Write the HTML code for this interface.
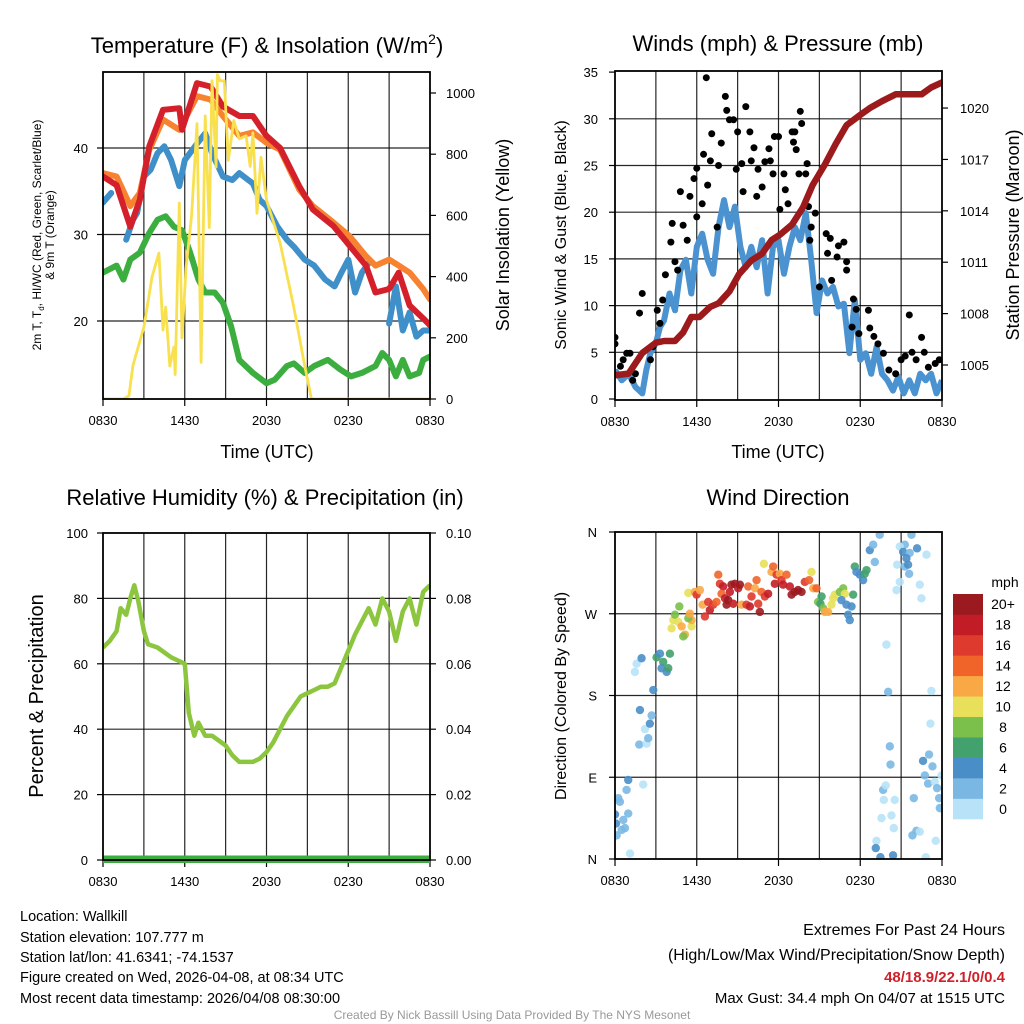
<!DOCTYPE html>
<html><head><meta charset="utf-8"><title>Mesonet Meteogram - Wallkill</title>
<style>
html,body{margin:0;padding:0;background:#fff;}
svg{display:block;font-family:"Liberation Sans",Arial,sans-serif;}
</style></head>
<body>
<svg id="chart" width="1024" height="1024" viewBox="0 0 1024 1024" xmlns="http://www.w3.org/2000/svg">
<defs>
<clipPath id="c1"><rect x="103" y="72" width="327" height="327"/></clipPath>
<clipPath id="c2"><rect x="615" y="71" width="327" height="329"/></clipPath>
<clipPath id="c3"><rect x="103" y="533" width="327" height="330"/></clipPath>
<clipPath id="c4"><rect x="615" y="532" width="327" height="327"/></clipPath>
</defs>
<rect width="1024" height="1024" fill="#fff"/>
<g id="p1"></g>
<g id="p2"></g>
<g id="p3"></g>
<g id="p4"></g>

<text x="267" y="53" font-size="22" text-anchor="middle">Temperature (F) &amp; Insolation (W/m<tspan dy="-9" font-size="14">2</tspan><tspan dy="9">)</tspan></text>
<text x="778" y="51" font-size="22" text-anchor="middle">Winds (mph) &amp; Pressure (mb)</text>
<text x="265" y="505" font-size="22" text-anchor="middle">Relative Humidity (%) &amp; Precipitation (in)</text>
<text x="778" y="505" font-size="22" text-anchor="middle">Wind Direction</text>

<text x="267" y="458" font-size="18" text-anchor="middle">Time (UTC)</text>
<text x="778" y="458" font-size="18" text-anchor="middle">Time (UTC)</text>

<text transform="translate(41,235) rotate(-90)" font-size="12" text-anchor="middle">2m T, T<tspan font-size="8" dy="3">d</tspan><tspan dy="-3">, HI/WC (Red, Green, Scarlet/Blue)</tspan></text>
<text transform="translate(54,235) rotate(-90)" font-size="12" text-anchor="middle">&amp; 9m T (Orange)</text>
<text transform="translate(509,235) rotate(-90)" font-size="18" text-anchor="middle">Solar Insolation (Yellow)</text>
<text transform="translate(566,235) rotate(-90)" font-size="16" text-anchor="middle">Sonic Wind &amp; Gust (Blue, Black)</text>
<text transform="translate(1019,235) rotate(-90)" font-size="18" text-anchor="middle">Station Pressure (Maroon)</text>
<text transform="translate(43,696) rotate(-90)" font-size="20" text-anchor="middle">Percent &amp; Precipitation</text>
<text transform="translate(566,696) rotate(-90)" font-size="16" text-anchor="middle">Direction (Colored By Speed)</text>

<g font-size="14.5">
<text x="20" y="921">Location: Wallkill</text>
<text x="20" y="942">Station elevation: 107.777 m</text>
<text x="20" y="962">Station lat/lon: 41.6341; -74.1537</text>
<text x="20" y="982">Figure created on Wed, 2026-04-08, at 08:34 UTC</text>
<text x="20" y="1003">Most recent data timestamp: 2026/04/08 08:30:00</text>
</g>
<g text-anchor="end">
<text x="1005" y="935" font-size="16">Extremes For Past 24 Hours</text>
<text x="1005" y="960" font-size="16">(High/Low/Max Wind/Precipitation/Snow Depth)</text>
<text x="1005" y="982" font-size="15" font-weight="bold" fill="#d0202a">48/18.9/22.1/0/0.4</text>
<text x="1005" y="1003" font-size="15">Max Gust: 34.4 mph On 04/07 at 1515 UTC</text>
</g>
<text x="512" y="1019" font-size="12" fill="#999" text-anchor="middle">Created By Nick Bassill Using Data Provided By The NYS Mesonet</text>
</svg>
<script>
// ---------- DATA ----------
const xTickLabels = ["0830","1430","2030","0230","0830"];
const tempTicks = [20,30,40];
const solarTicks = [0,200,400,600,800,1000];
const windTicks = [0,5,10,15,20,25,30,35];
const pressTicks = [1005,1008,1011,1014,1017,1020];
const rhTicks = [0,20,40,60,80,100];
const precipTicks = ["0.00","0.02","0.04","0.06","0.08","0.10"];
const dirTicks = ["N","E","S","W","N"];
const speedLabels = ["0","2","4","6","8","10","12","14","16","18","20+"];
const speedColors = ["#b7e2f7","#7ab8e3","#4a8ec8","#42a16c","#7ac04a","#e8e05a","#f9a846","#f0642a","#df3a2e","#c21d27","#9b1a1f"];

const redHours = [0,1,2,2.7,3.4,4.4,5.6,5.8,6.9,7.9,8.8,10,11,12,13,14.4,15.4,16.9,18.1,19.3,20,21,21.7,22.5,23.5,24];
const redTemp  = [36.7,35.7,30.9,34,40.2,44.4,44.6,42.1,47.5,47.1,44.8,43.7,43.7,41.4,40,35.6,32.9,31,28.7,26.4,23.3,23.7,25.6,21.8,20.3,19.5];
const orangeHours = [0,1,2,2.7,3.4,4.4,5.6,6.9,7.9,8.8,10,11,12,13,14.4,15.4,16.9,18.1,19.3,20,21,21.7,22.5,23.5,24];
const orangeTemp  = [37.1,36.7,33.3,34.8,39.8,43.3,42.1,46,45.6,43.7,41.4,41.8,40.6,39.8,35.2,33.3,31.4,29.8,27.5,26.4,27.1,26.4,25.6,23.7,22.5];
const blueHours = [0,0.6,null,1.7,2.2,2.5,3,3.5,4,4.5,5,5.6,6,6.9,7.5,8,8.8,9.5,10,11,11.5,12,12.8,13.5,14,14.8,15.5,16.3,17,17.5,18,18.5,19,19.5,null,21,21.5,22,22.5,23,23.5,24];
const blueTemp  = [33.7,34.8,null,29.4,31.7,32.5,36.7,37.5,39.4,40.2,38.6,35.6,38.6,40.5,41.7,39.4,36.7,36.3,37.1,35.9,34,33.3,30.9,29.4,28.6,27.1,26.4,24.8,24,25.6,27.1,23.3,25.6,26.7,null,19.7,24,18.9,21,18.2,18.9,18.9];
const greenHours = [0,1,1.5,2,2.7,3.4,4,4.6,5.2,5.8,6.4,7,7.5,8.2,8.8,9.4,10,11,12,12.6,13.5,14,14.8,15.5,16.5,17.4,18.2,19,20,20.5,21,21.5,22,22.5,23.2,23.5,24];
const greenTemp  = [25.6,26.4,24.8,27.1,27.9,30.2,31.7,32.1,30.9,30.5,27.9,24.8,23.3,23.3,22.1,19.4,15.5,14,12.8,13.2,14.8,15.1,14,14.8,15.5,14.4,13.6,14,14.8,16.3,15.5,13.6,15.5,13.6,14,15.5,15.9];
const solarHours = [0,1.5,1.9,2.2,3,3.6,4.1,4.4,4.6,4.9,5.2,5.3,5.6,5.8,6.1,6.5,6.9,7.2,7.5,7.8,8,8.3,8.4,8.6,8.9,9.2,9.6,10,10.5,10.8,11,11.3,11.6,12,13,14,14.8,15.3,24];
const solarVals  = [0,0,10,110,235,400,477,225,300,108,170,80,640,200,430,600,900,120,925,560,1040,758,1060,1040,1040,780,910,850,860,760,870,607,790,650,510,300,110,0,0];

const windHours = [0,0.5,1,1.5,2,2.3,2.6,3,3.3,3.6,4,4.4,4.8,5.2,5.6,6,6.4,6.8,7.2,7.6,8,8.4,8.8,9.2,9.6,10,10.4,10.8,11.2,11.6,12,12.4,12.8,13.2,13.6,14,14.4,14.8,15.2,15.6,16,16.4,16.8,17.2,17.6,18,18.4,18.8,19.2,19.6,20,20.4,20.8,21.2,21.6,22,22.4,22.8,23.2,23.6,24];
const windSpeed = [3.1,2.0,2.7,1.3,0.6,3.1,4.9,6,7.7,8.4,11.3,9.5,13.8,14.9,11.3,16.3,17.7,14.9,13.4,18.4,21.3,18.4,20.6,16.3,14.1,16.3,14.1,17.0,11.3,16.3,17.0,13.4,16.3,18.4,17.0,19.9,14.9,9.2,12.7,11.3,12,9.9,10.2,4.9,10.6,4.2,4.9,2.7,5.6,2.7,2.0,0.9,2.4,0.6,2.0,0.6,2.7,2.0,2.7,0.6,2];
const gustHours = [0,0,0.4,0.6,0.86,1.1,1.3,1.5,1.8,2.0,2.6,2.8,3.1,3.3,3.5,3.7,4.1,4.2,4.4,4.6,4.8,5.0,5.3,5.5,5.8,6.0,6.0,6.4,6.5,6.7,6.8,7.0,7.1,7.5,7.6,7.8,8.1,8.2,8.4,8.7,8.9,9.0,9.3,9.4,9.6,9.9,10.0,10.2,10.4,10.5,10.8,11.0,11.3,11.4,11.6,11.7,12.0,12.1,12.4,12.5,12.7,13.0,13.1,13.2,13.3,13.5,13.6,13.7,14.0,14.1,14.2,14.3,14.4,14.7,15.0,15.5,15.6,15.8,15.9,16.3,16.4,16.8,17.0,17.0,17.4,17.5,17.7,17.9,18.6,18.7,19.0,19.3,19.7,20.1,20.6,21.0,21.3,21.6,21.8,22.1,22.5,22.7,23.0,23.5,23.8];
const gustSpeed = [5.9,6.6,3.5,4.2,4.9,4.9,2.0,2.7,9.2,11.3,4.2,5.6,9.5,8.1,10.6,13.3,16.8,18.8,14.7,13.8,22.2,18.6,17.0,21.7,23.6,24.7,19.5,20.9,26.2,34.4,22.9,25.5,28.4,18.4,25.0,27.4,32.4,30.9,29.9,29.9,24.6,28.6,25.2,22.2,31.3,28.6,25.5,26.9,21.7,24.6,22.7,25.4,26.8,25.5,24.1,28.1,28.1,20.3,24.1,22.4,20.9,28.6,27.5,28.6,26.7,24.1,30.8,29.5,24.1,25.2,20.6,17.0,18.4,19.9,12.0,17.7,15.6,17.2,12.7,15.2,16.4,16.8,13.8,14.7,7.7,10.7,9.6,7.0,9.5,7.6,6.7,5.9,4.9,3.1,2.7,4.2,4.6,9.0,5.0,4.2,6.6,5.0,3.4,3.8,4.2];
const pressHours = [0,1,2,3,3.6,4.4,5,5.6,6.2,7,7.6,8.4,9.1,10,10.8,11.5,12.1,13,13.8,14.5,15.4,16.2,17,18,18.7,19.6,20.6,21.6,22.5,23.2,24];
const pressVals  = [1004.4,1004.5,1005.7,1006.3,1006.4,1006.4,1006.9,1007.8,1007.8,1008.4,1008.6,1009.3,1010.3,1011.1,1011.5,1012.3,1012.6,1013.2,1014.2,1015.5,1016.7,1017.9,1019.0,1019.6,1020.0,1020.4,1020.8,1020.8,1020.8,1021.2,1021.5];

const rhHours = [0,0.5,1,1.3,1.7,2,2.3,2.6,3,3.3,4,5,5.5,6,6.3,6.7,7,7.5,8,9,9.5,10,10.5,11,11.5,12,12.5,13,13.5,14,14.5,15,15.5,16,16.5,17,17.5,18,18.5,19,19.5,20,20.5,21,21.5,22,22.5,23,23.5,24];
const rhVals  = [65,67,70,77,75,80,84,79,70,66,65,62,61,60,45,38,42,38,38,35,32,30,30,30,31,33,36,40,44,47,50,51,52,53,53,54,59,64,69,73,77,72,80,76,67,76,80,72,82,84];
const precipHours = [0,24];
const precipVals  = [0,0];

const dirHours = [0.0,0.07,0.24,0.36,0.61,0.73,0.97,0.49,0.12,0.85,0.97,1.1,2.07,1.78,2.32,2.44,2.2,2.56,2.69,1.83,2.81,1.46,1.59,1.95,3.05,3.3,3.54,3.42,3.79,3.91,4.03,4.15,4.28,4.4,4.64,4.89,5.13,5.01,5.62,5.62,5.38,5.5,4.72,5.38,5.86,5.99,6.23,6.43,6.6,6.96,6.84,7.21,7.45,7.58,7.7,7.94,7.82,8.07,8.19,8.43,8.55,8.8,9.04,9.17,8.31,8.68,9.29,9.65,9.9,10.02,9.78,10.39,10.27,10.51,10.63,10.75,11.0,11.24,10.93,11.49,11.61,11.86,11.73,12.1,12.22,12.34,12.59,12.83,12.96,13.2,13.44,13.69,13.93,14.25,14.42,14.55,14.79,14.91,15.16,15.08,15.28,15.4,15.64,15.89,16.01,16.13,16.5,16.75,16.87,16.62,16.99,17.36,17.23,17.11,17.48,17.6,17.72,17.97,18.21,18.33,18.46,18.7,18.95,19.07,19.43,19.92,20.05,20.17,20.22,19.68,19.87,19.73,20.53,19.56,20.29,20.46,19.19,19.14,19.48,20.41,21.76,21.27,20.9,21.15,21.63,21.39,20.71,21.27,21.51,21.59,20.9,20.66,22.17,22.86,22.37,22.49,23.22,23.15,23.05,22.61,23.3,22.74,22.98,23.47,23.96,23.64,21.93,23.79,23.84,22.12,21.83,22.37,23.54,22.81];
const dirDeg = [49,39,67,63,43,34,50,32,26,76,87,6,82,126,127,133,143,149,158,164,186,206,215,221,222,226,217,210,206,210,226,254,263,269,261,256,247,245,256,263,265,270,278,293,294,291,296,280,267,274,283,280,283,313,303,300,292,287,280,294,302,303,298,302,285,281,280,280,278,289,300,307,298,281,272,294,289,292,325,316,322,313,303,314,307,302,313,300,291,294,296,294,305,307,316,298,298,283,289,281,276,272,272,280,287,291,294,298,292,285,280,278,263,269,291,322,316,313,307,314,318,340,346,327,357,236,184,124,104,76,81,65,65,45,48,34,20,12,2,4,357,346,344,338,337,331,324,322,324,314,305,296,342,335,302,287,185,149,115,108,102,92,83,85,92,78,67,67,56,31,26,30,20,2];
const dirSpeed = [5,5,3,3,3,3,3,3,3,3,5,1,1,3,1,3,1,5,3,5,5,1,1,5,7,5,7,5,5,7,7,11,11,9,11,13,13,9,11,13,9,13,9,11,13,17,13,13,17,19,17,17,15,15,17,19,15,19,21,19,21,21,19,21,21,19,13,17,19,17,15,15,13,17,21,15,17,19,11,13,15,17,19,13,17,19,15,19,21,21,21,21,17,15,11,13,15,9,7,7,9,13,13,11,11,11,9,9,11,5,5,5,5,5,7,7,5,5,5,7,7,5,3,3,3,1,3,3,3,3,1,1,1,1,1,1,1,5,5,5,3,3,1,5,3,5,1,3,5,3,1,1,5,1,1,1,1,1,3,5,3,3,3,1,1,3,3,3,3,3,3,1,1,1];

// ---------- AXES ----------
const NS = "http://www.w3.org/2000/svg";
function mk(parent, tag, attrs){ const e=document.createElementNS(NS,tag); for(const k in attrs) e.setAttribute(k,attrs[k]); parent.appendChild(e); return e; }
const L = {p1:{x0:103,x1:430,y0:72,y1:399}, p2:{x0:615,x1:942,y0:71,y1:400}, p3:{x0:103,x1:430,y0:533,y1:860}, p4:{x0:615,x1:942,y0:532,y1:859}};
const xP1 = h => L.p1.x0 + h*(L.p1.x1-L.p1.x0)/24;
const xP2 = h => L.p2.x0 + h*(L.p2.x1-L.p2.x0)/24;
const yTemp = v => 148 - (v-40)*8.65;
const ySolar = w => 399 - w*0.306;
const yWind = v => 399 - v*9.34;
const yPress = p => 365 - (p-1005)*17.13;
const yRH = v => 860 - v*3.27;
const yPrecip = v => 860 - v*3270;
const yDir = d => 859 - d*327/360;

function pathFrom(hs, vs, fx, fy){
  let d="", pen=false;
  for(let i=0;i<hs.length;i++){
    if(hs[i]===null||vs[i]===null){pen=false;continue;}
    d += (pen?"L":"M")+fx(hs[i]).toFixed(1)+","+fy(vs[i]).toFixed(1);
    pen=true;
  }
  return d;
}

function frame(g, P, xf, hGrid){
  for(let h=3;h<24;h+=3){
    const l=mk(g,"line",{x1:xf(h),x2:xf(h),y1:P.y0,y2:P.y1,stroke:"#000","stroke-width":1.2,"stroke-opacity":0.85});
    
    
  }
  hGrid.forEach(y=>{
    const l=mk(g,"line",{x1:P.x0,x2:P.x1,y1:y,y2:y,stroke:"#000","stroke-width":1.2,"stroke-opacity":0.85});
    
    
  });
  xTickLabels.forEach((t,i)=>{
    const x = xf(i*6);
    mk(g,"line",{x1:x,x2:x,y1:P.y1,y2:P.y1+7,stroke:"#000","stroke-width":1.2});
    const tx=mk(g,"text",{x:x,y:P.y1+26,"font-size":13,"text-anchor":"middle"}); tx.textContent=t;
    
    
  });
}
function border(g,P){
  const r=mk(g,"rect",{x:P.x0,y:P.y0,width:P.x1-P.x0,height:P.y1-P.y0,fill:"none",stroke:"#000","stroke-width":1.8});
  
  
}
function yLabels(g, ticks, fy, x, anchor, fmt, tickX1, tickX2){
  ticks.forEach(t=>{
    const y = fy(t);
    mk(g,"line",{x1:tickX1,x2:tickX2,y1:y,y2:y,stroke:"#000","stroke-width":1.2});
    const tx=mk(g,"text",{x:x,y:y+5,"font-size":13,"text-anchor":anchor}); tx.textContent=fmt?fmt(t):t;
    
    
  });
}

// ---------- PANEL 1 ----------
(function(){
  const g=document.getElementById("p1"), P=L.p1;
  frame(g,P,xP1,tempTicks.map(yTemp));
  const c=mk(g,"g",{"clip-path":"url(#c1)"});
  const series=[[greenHours,greenTemp,"#3cae3f","dewpoint-line",6],[blueHours,blueTemp,"#3f8fc9","heat-index-line",6],[orangeHours,orangeTemp,"#f7822f","temp-9m-line",6],[redHours,redTemp,"#d4202a","temp-2m-line",6]];
  series.forEach(s=>{
    const p=mk(c,"path",{d:pathFrom(s[0],s[1],xP1,yTemp),fill:"none",stroke:s[2],"stroke-width":s[4],"stroke-linejoin":"round","stroke-linecap":"round"});
    
    
  });
  const sp=mk(c,"path",{d:pathFrom(solarHours,solarVals,xP1,ySolar),fill:"none",stroke:"#f8e04e","stroke-width":2.8,"stroke-linejoin":"round"});
  
  
  border(g,P);
  yLabels(g,tempTicks,yTemp,88,"end",null,P.x0-6,P.x0);
  yLabels(g,solarTicks,ySolar,446,"start",null,P.x1,P.x1+6);
})();

// ---------- PANEL 2 ----------
(function(){
  const g=document.getElementById("p2"), P=L.p2;
  frame(g,P,xP2,windTicks.slice(1,7).map(yWind));
  const c=mk(g,"g",{"clip-path":"url(#c2)"});
  const wp=mk(c,"path",{d:pathFrom(windHours,windSpeed,xP2,yWind),fill:"none",stroke:"#4b93d0","stroke-width":6,"stroke-linejoin":"round"});
  
  
  gustHours.forEach((h,i)=>{
    const d=mk(c,"circle",{cx:xP2(h),cy:yWind(gustSpeed[i]),r:3.5,fill:"#000"});
    
    
  });
  const pp=mk(c,"path",{d:pathFrom(pressHours,pressVals,xP2,yPress),fill:"none",stroke:"#9c1a1c","stroke-width":6.5,"stroke-linejoin":"round","stroke-linecap":"round"});
  
  
  border(g,P);
  yLabels(g,windTicks,yWind,598,"end",null,P.x0-6,P.x0);
  yLabels(g,pressTicks,yPress,960,"start",null,P.x1,P.x1+6);
})();

// ---------- PANEL 3 ----------
(function(){
  const g=document.getElementById("p3"), P=L.p3;
  frame(g,P,xP1,rhTicks.slice(1,5).map(yRH));
  const c=mk(g,"g",{"clip-path":"url(#c3)"});
  const rp=mk(c,"path",{d:pathFrom(rhHours,rhVals,xP1,yRH),fill:"none",stroke:"#8cc63f","stroke-width":4.5,"stroke-linejoin":"round"});
  
  
  const pr=mk(c,"path",{d:pathFrom(precipHours,precipVals,xP1,yPrecip),fill:"none",stroke:"#3cae3f","stroke-width":9});
  
  
  border(g,P);
  yLabels(g,rhTicks,yRH,88,"end",null,P.x0-6,P.x0);
  yLabels(g,precipTicks.map(Number),yPrecip,446,"start",v=>v.toFixed(2),P.x1,P.x1+6);
})();

// ---------- PANEL 4 ----------
(function(){
  const g=document.getElementById("p4"), P=L.p4;
  frame(g,P,xP2,[90,180,270].map(yDir));
  const c=mk(g,"g",{"clip-path":"url(#c4)"});
  dirHours.forEach((h,i)=>{
    const idx=Math.min(10,Math.floor(dirSpeed[i]/2));
    const d=mk(c,"circle",{cx:xP2(h),cy:yDir(dirDeg[i]),r:4.2,fill:speedColors[idx],"fill-opacity":0.9});
    
    
  });
  border(g,P);
  dirTicks.forEach((t,i)=>{
    const y=yDir(i*90);
    mk(g,"line",{x1:P.x0-6,x2:P.x0,y1:y,y2:y,stroke:"#000","stroke-width":1.2});
    const tx=mk(g,"text",{x:597,y:y+5,"font-size":13,"text-anchor":"end"}); tx.textContent=t;
    
    
  });
  const cb=mk(g,"g",{});
  
  
  const bh=225/11;
  speedColors.forEach((col,i)=>{
    const y=819-(i+1)*bh;
    const r=mk(cb,"rect",{x:953,y:y,width:30,height:bh+0.3,fill:col});
    
    
    const tx=mk(cb,"text",{x:1003,y:y+bh/2+5,"font-size":14,"text-anchor":"middle"}); tx.textContent=speedLabels[i];
    
    
  });
  const u=mk(cb,"text",{x:1005,y:587,"font-size":14,"text-anchor":"middle"}); u.textContent="mph";
  
  
})();
</script>
</body></html>
